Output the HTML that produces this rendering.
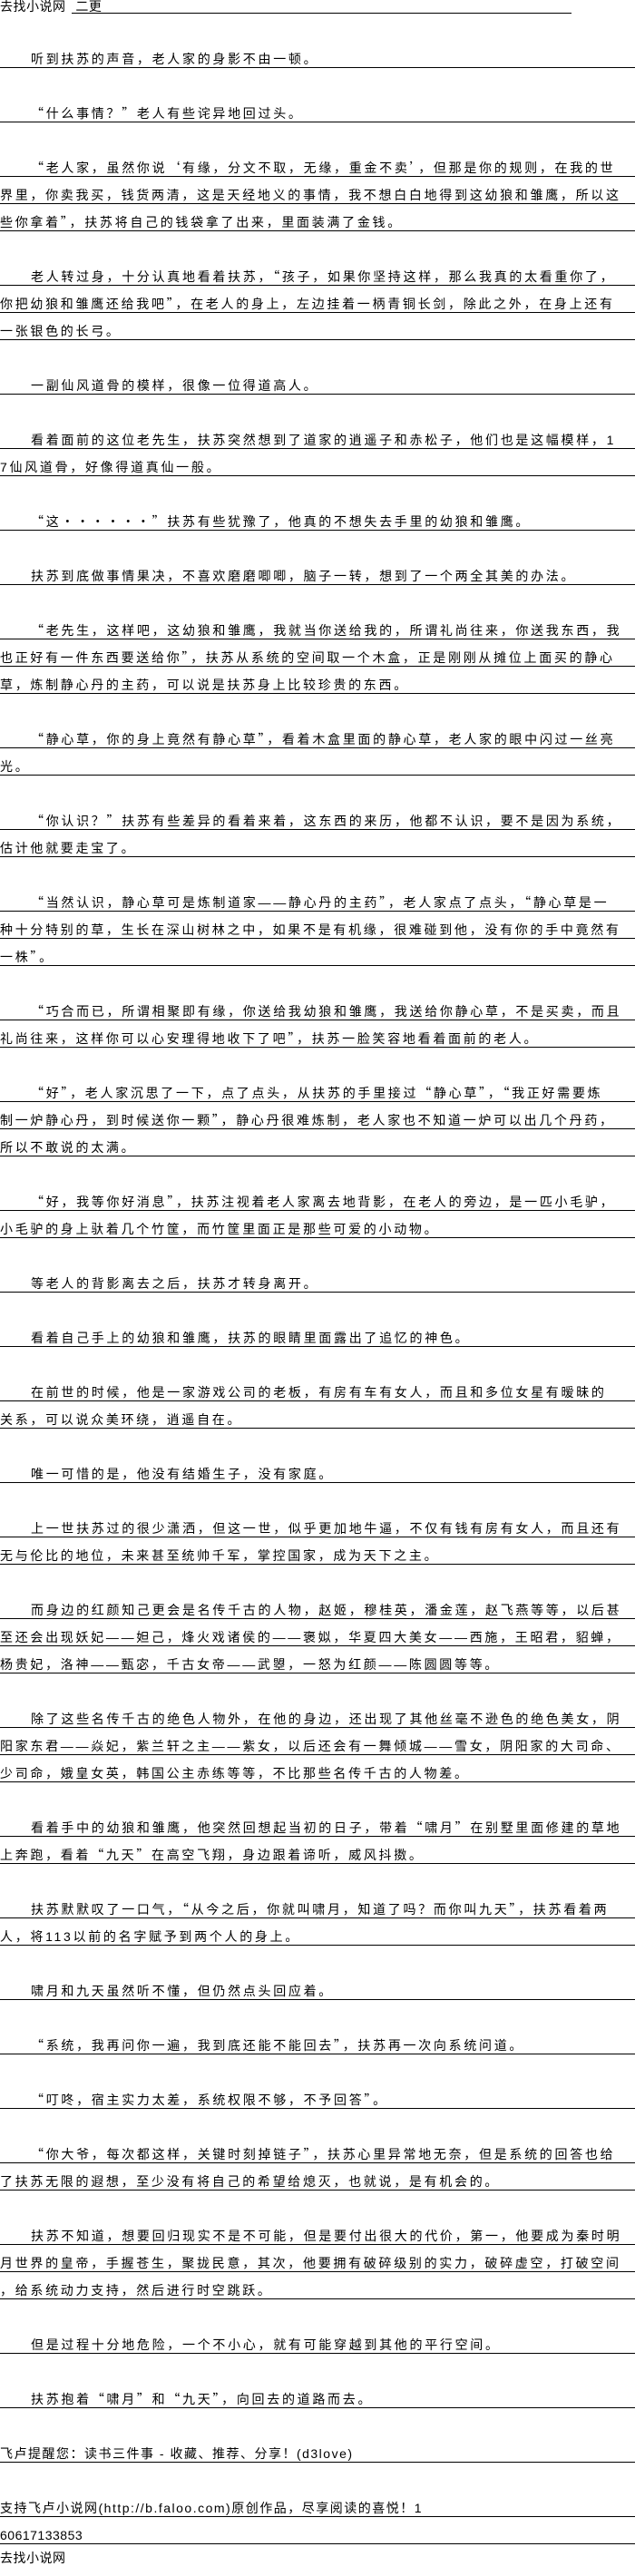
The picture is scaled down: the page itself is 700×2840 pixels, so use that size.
<!DOCTYPE html>
<html><head><meta charset="utf-8">
<style>
html,body{margin:0;padding:0;background:#fff;}
body{width:700px;height:2840px;position:relative;overflow:hidden;font-family:"Liberation Sans","Noto Sans CJK SC","WenQuanYi Zen Hei",sans-serif;color:#000;}
#hdr{position:absolute;left:0;top:0;height:16px;width:700px;font-size:14px;line-height:15px;letter-spacing:0.5px;}
#hdr .u{position:absolute;left:79px;top:0;width:551px;height:14px;border-bottom:1px solid #000;overflow:hidden;}
#rows{position:absolute;left:0;top:45px;width:700px;}
.r{height:29px;border-bottom:1px solid #000;white-space:nowrap;overflow:hidden;font-size:14px;letter-spacing:2.7px;line-height:15px;}
.r span{display:block;padding-top:13px;}
.r.i span{padding-left:34px;}
i{font-style:normal;font-family:"Noto Sans CJK SC","WenQuanYi Zen Hei",sans-serif;}
.b{height:30px;}
#ftr{position:absolute;left:0;top:2813px;font-size:14px;letter-spacing:0.5px;line-height:15px;}
</style></head><body>
<div id="hdr">去找小说网<div class="u">&nbsp;二更</div></div>
<div id="rows">
<div class="r i"><span>听到扶苏的声音，老人家的身影不由一顿。</span></div>
<div class="b"></div>
<div class="r i"><span><i>“</i>什么事情？<i>”</i>老人有些诧异地回过头。</span></div>
<div class="b"></div>
<div class="r i"><span><i>“</i>老人家，虽然你说<i>‘</i>有缘，分文不取，无缘，重金不卖<i>’</i>，但那是你的规则，在我的世</span></div>
<div class="r"><span>界里，你卖我买，钱货两清，这是天经地义的事情，我不想白白地得到这幼狼和雏鹰，所以这</span></div>
<div class="r"><span>些你拿着<i>”</i>，扶苏将自己的钱袋拿了出来，里面装满了金钱。</span></div>
<div class="b"></div>
<div class="r i"><span>老人转过身，十分认真地看着扶苏，<i>“</i>孩子，如果你坚持这样，那么我真的太看重你了，</span></div>
<div class="r"><span>你把幼狼和雏鹰还给我吧<i>”</i>，在老人的身上，左边挂着一柄青铜长剑，除此之外，在身上还有</span></div>
<div class="r"><span>一张银色的长弓。</span></div>
<div class="b"></div>
<div class="r i"><span>一副仙风道骨的模样，很像一位得道高人。</span></div>
<div class="b"></div>
<div class="r i"><span>看着面前的这位老先生，扶苏突然想到了道家的逍遥子和赤松子，他们也是这幅模样，1</span></div>
<div class="r"><span>7仙风道骨，好像得道真仙一般。</span></div>
<div class="b"></div>
<div class="r i"><span><i>“</i>这<i>······”</i>扶苏有些犹豫了，他真的不想失去手里的幼狼和雏鹰。</span></div>
<div class="b"></div>
<div class="r i"><span>扶苏到底做事情果决，不喜欢磨磨唧唧，脑子一转，想到了一个两全其美的办法。</span></div>
<div class="b"></div>
<div class="r i"><span><i>“</i>老先生，这样吧，这幼狼和雏鹰，我就当你送给我的，所谓礼尚往来，你送我东西，我</span></div>
<div class="r"><span>也正好有一件东西要送给你<i>”</i>，扶苏从系统的空间取一个木盒，正是刚刚从摊位上面买的静心</span></div>
<div class="r"><span>草，炼制静心丹的主药，可以说是扶苏身上比较珍贵的东西。</span></div>
<div class="b"></div>
<div class="r i"><span><i>“</i>静心草，你的身上竟然有静心草<i>”</i>，看着木盒里面的静心草，老人家的眼中闪过一丝亮</span></div>
<div class="r"><span>光。</span></div>
<div class="b"></div>
<div class="r i"><span><i>“</i>你认识？<i>”</i>扶苏有些差异的看着来着，这东西的来历，他都不认识，要不是因为系统，</span></div>
<div class="r"><span>估计他就要走宝了。</span></div>
<div class="b"></div>
<div class="r i"><span><i>“</i>当然认识，静心草可是炼制道家——静心丹的主药<i>”</i>，老人家点了点头，<i>“</i>静心草是一</span></div>
<div class="r"><span>种十分特别的草，生长在深山树林之中，如果不是有机缘，很难碰到他，没有你的手中竟然有</span></div>
<div class="r"><span>一株<i>”</i>。</span></div>
<div class="b"></div>
<div class="r i"><span><i>“</i>巧合而已，所谓相聚即有缘，你送给我幼狼和雏鹰，我送给你静心草，不是买卖，而且</span></div>
<div class="r"><span>礼尚往来，这样你可以心安理得地收下了吧<i>”</i>，扶苏一脸笑容地看着面前的老人。</span></div>
<div class="b"></div>
<div class="r i"><span><i>“</i>好<i>”</i>，老人家沉思了一下，点了点头，从扶苏的手里接过<i>“</i>静心草<i>”</i>，<i>“</i>我正好需要炼</span></div>
<div class="r"><span>制一炉静心丹，到时候送你一颗<i>”</i>，静心丹很难炼制，老人家也不知道一炉可以出几个丹药，</span></div>
<div class="r"><span>所以不敢说的太满。</span></div>
<div class="b"></div>
<div class="r i"><span><i>“</i>好，我等你好消息<i>”</i>，扶苏注视着老人家离去地背影，在老人的旁边，是一匹小毛驴，</span></div>
<div class="r"><span>小毛驴的身上驮着几个竹筐，而竹筐里面正是那些可爱的小动物。</span></div>
<div class="b"></div>
<div class="r i"><span>等老人的背影离去之后，扶苏才转身离开。</span></div>
<div class="b"></div>
<div class="r i"><span>看着自己手上的幼狼和雏鹰，扶苏的眼睛里面露出了追忆的神色。</span></div>
<div class="b"></div>
<div class="r i"><span>在前世的时候，他是一家游戏公司的老板，有房有车有女人，而且和多位女星有暧昧的</span></div>
<div class="r"><span>关系，可以说众美环绕，逍遥自在。</span></div>
<div class="b"></div>
<div class="r i"><span>唯一可惜的是，他没有结婚生子，没有家庭。</span></div>
<div class="b"></div>
<div class="r i"><span>上一世扶苏过的很少潇洒，但这一世，似乎更加地牛逼，不仅有钱有房有女人，而且还有</span></div>
<div class="r"><span>无与伦比的地位，未来甚至统帅千军，掌控国家，成为天下之主。</span></div>
<div class="b"></div>
<div class="r i"><span>而身边的红颜知己更会是名传千古的人物，赵姬，穆桂英，潘金莲，赵飞燕等等，以后甚</span></div>
<div class="r"><span>至还会出现妖妃——妲己，烽火戏诸侯的——褒姒，华夏四大美女——西施，王昭君，貂蝉，</span></div>
<div class="r"><span>杨贵妃，洛神——甄宓，千古女帝——武曌，一怒为红颜——陈圆圆等等。</span></div>
<div class="b"></div>
<div class="r i"><span>除了这些名传千古的绝色人物外，在他的身边，还出现了其他丝毫不逊色的绝色美女，阴</span></div>
<div class="r"><span>阳家东君——焱妃，紫兰轩之主——紫女，以后还会有一舞倾城——雪女，阴阳家的大司命、</span></div>
<div class="r"><span>少司命，娥皇女英，韩国公主赤练等等，不比那些名传千古的人物差。</span></div>
<div class="b"></div>
<div class="r i"><span>看着手中的幼狼和雏鹰，他突然回想起当初的日子，带着<i>“</i>啸月<i>”</i>在别墅里面修建的草地</span></div>
<div class="r"><span>上奔跑，看着<i>“</i>九天<i>”</i>在高空飞翔，身边跟着谛听，威风抖擞。</span></div>
<div class="b"></div>
<div class="r i"><span>扶苏默默叹了一口气，<i>“</i>从今之后，你就叫啸月，知道了吗？而你叫九天<i>”</i>，扶苏看着两</span></div>
<div class="r"><span>人，将113以前的名字赋予到两个人的身上。</span></div>
<div class="b"></div>
<div class="r i"><span>啸月和九天虽然听不懂，但仍然点头回应着。</span></div>
<div class="b"></div>
<div class="r i"><span><i>“</i>系统，我再问你一遍，我到底还能不能回去<i>”</i>，扶苏再一次向系统问道。</span></div>
<div class="b"></div>
<div class="r i"><span><i>“</i>叮咚，宿主实力太差，系统权限不够，不予回答<i>”</i>。</span></div>
<div class="b"></div>
<div class="r i"><span><i>“</i>你大爷，每次都这样，关键时刻掉链子<i>”</i>，扶苏心里异常地无奈，但是系统的回答也给</span></div>
<div class="r"><span>了扶苏无限的遐想，至少没有将自己的希望给熄灭，也就说，是有机会的。</span></div>
<div class="b"></div>
<div class="r i"><span>扶苏不知道，想要回归现实不是不可能，但是要付出很大的代价，第一，他要成为秦时明</span></div>
<div class="r"><span>月世界的皇帝，手握苍生，聚拢民意，其次，他要拥有破碎级别的实力，破碎虚空，打破空间</span></div>
<div class="r"><span>，给系统动力支持，然后进行时空跳跃。</span></div>
<div class="b"></div>
<div class="r i"><span>但是过程十分地危险，一个不小心，就有可能穿越到其他的平行空间。</span></div>
<div class="b"></div>
<div class="r i"><span>扶苏抱着<i>“</i>啸月<i>”</i>和<i>“</i>九天<i>”</i>，向回去的道路而去。</span></div>
<div class="b"></div>
<div class="r"><span style="letter-spacing:1.5px">飞卢提醒您：读书三件事 - 收藏、推荐、分享！(d3love)</span></div>
<div class="b"></div>
<div class="r"><span style="letter-spacing:1.5px">支持飞卢小说网(http://b.faloo.com)原创作品，尽享阅读的喜悦！1</span></div>
<div class="r"><span style="letter-spacing:0.5px">60617133853</span></div>
</div>
<div id="ftr">去找小说网</div>
</body></html>
